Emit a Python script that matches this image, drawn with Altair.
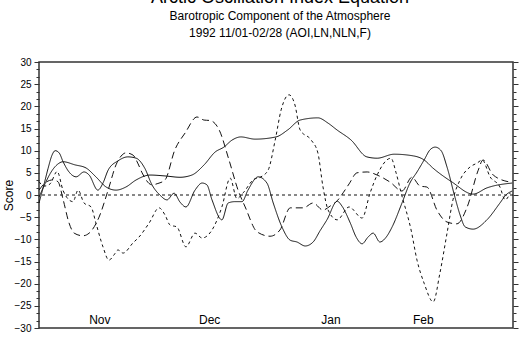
import altair as alt
import pandas as pd

# x = days since 1 Nov 1992 (0..120), y = score
aoi_day = [0.0, 1.5, 3.3, 4.8, 6.1, 9.1, 11.9, 14.4, 17.0, 19.5, 22.0, 24.6, 28.1, 31.9, 35.7,
           38.7, 41.8, 44.6, 46.8, 48.9, 51.1, 54.7, 60.0, 63.0, 66.1, 70.6, 73.2, 75.4, 79.0,
           83.0, 85.6, 89.9, 94.9, 97.5, 99.7, 104.6, 109.9, 113.4, 119.8]
aoi_val = [-0.5, 2.5, 5.5, 7.0, 7.5, 6.8, 6.1, 4.1, 1.8, 1.1, 1.8, 3.4, 4.5, 4.3, 4.0,
           4.5, 6.8, 9.7, 10.8, 12.4, 13.1, 12.6, 13.1, 14.7, 16.9, 17.4, 16.2, 14.7, 12.4,
           8.6, 8.3, 9.2, 8.8, 7.9, 6.1, 2.9, 0.2, 1.6, 2.7]

ln_day = [0.0, 1.8, 3.5, 4.8, 6.1, 7.6, 8.9, 11.1, 12.7, 15.2, 17.5, 19.5, 20.8, 22.0, 23.8,
          25.1, 26.1, 28.6, 30.1, 31.9, 34.4, 37.0, 40.0, 41.8, 43.3, 45.6, 48.1, 50.4, 52.2,
          55.2, 58.5, 61.0, 63.6, 66.9, 69.4, 71.9, 73.7, 75.5, 77.0, 78.5, 80.5, 83.1, 85.6,
          88.9, 91.9, 94.4, 96.5, 98.2, 100.8, 103.3, 105.8, 108.4, 111.2, 112.4, 115.0, 119.3]
ln_val = [1.1, 2.9, 3.4, 3.0, -1.0, -6.3, -8.6, -9.2, -8.6, -5.0, 1.1, 6.8, 8.8, 9.5, 9.0,
          7.0, 5.0, 2.3, 2.6, 3.4, 10.2, 14.0, 17.6, 16.9, 16.8, 14.7, 7.9, 1.1, -2.7,
          -8.3, -9.3, -7.9, -2.9, -2.9, -1.8, -3.4, -2.5, -1.3, 0.5, 2.5, 5.0, 5.2, 4.5,
          2.9, 0.9, 4.0, 2.0, 1.8, -3.5, -6.1, -6.5, -2.7, 5.6, 7.9, 4.5, 2.9]

nln_day = [0.0, 1.3, 2.8, 4.6, 6.1, 7.6, 8.6, 9.9, 11.4, 13.2, 14.4, 16.2, 17.7, 19.0, 20.0,
           21.3, 23.8, 25.3, 27.9, 30.4, 31.9, 33.2, 34.9, 37.2, 39.5, 41.3, 43.8, 46.3, 48.4,
           50.1, 51.7, 54.2, 56.2, 58.0, 59.8, 61.3, 63.3, 64.8, 66.1, 68.9, 70.6, 71.9, 73.2,
           75.5, 78.5, 81.8, 83.8, 85.6, 89.1, 90.4, 91.7, 94.2, 95.7, 97.5, 99.8, 101.5,
           103.3, 104.8, 106.6, 109.1, 110.9, 112.2, 114.2, 116.7, 118.0, 119.3]
nln_val = [3.0, 2.0, 2.5, 5.3, 1.0, -1.1, -1.5, 1.1, -1.8, -2.7, -6.3, -11.7, -14.7, -13.5, -12.4,
           -13.1, -10.8, -9.5, -6.3, -2.9, -4.5, -6.8, -7.2, -11.7, -8.6, -9.7, -7.9, -2.7, 3.8,
           -0.8, 0.5, 3.4, 4.1, 5.6, 12.4, 19.2, 22.6, 20.3, 14.7, 12.4, 9.5, 1.8, -3.4,
           -5.6, -2.7, -5.2, 0.4, 4.5, 8.3, 5.0, 0.4, -7.9, -14.7, -19.9, -24.1, -17.6,
           -8.6, -1.1, 3.4, 6.3, 7.2, 7.9, 4.1, 1.8, -1.1, 0.5]

f_day = [0.0, 1.3, 2.3, 3.3, 4.1, 5.1, 6.1, 7.6, 9.4, 11.4, 12.7, 14.9, 16.2, 17.5, 20.0,
         22.5, 24.6, 26.8, 28.6, 30.6, 32.4, 34.2, 35.7, 37.2, 39.5, 41.3, 42.5, 43.8, 46.3,
         47.9, 49.6, 51.4, 52.9, 55.5, 57.7, 59.3, 61.5, 63.6, 65.3, 67.4, 69.4, 71.2, 72.9,
         75.5, 76.7, 78.8, 80.3, 81.8, 83.3, 84.6, 86.3, 87.9, 89.4, 91.9, 93.9, 95.7, 97.5,
         99.0, 100.3, 101.8, 103.3, 105.3, 106.6, 107.9, 109.9, 113.4, 116.7, 118.2, 119.8]
f_val = [-1.8, 2.5, 6.0, 9.0, 10.0, 9.5, 7.5, 5.2, 4.1, 5.2, 4.5, 1.1, 2.7, 5.6, 7.7,
         8.6, 8.3, 6.0, 2.3, 0.0, -1.1, 0.4, -1.6, -2.7, 1.1, 2.7, 2.3, -1.1, -5.6,
         -1.8, -1.5, -1.5, 1.1, 4.1, 2.7, -1.8, -7.2, -10.2, -10.6, -11.5, -10.6, -8.0, -5.6,
         -1.4, -2.5, -6.3, -9.5, -11.0, -9.5, -8.6, -10.6, -9.5, -7.2, -1.8, 2.7, 5.2, 7.9,
         10.2, 10.8, 10.0, 6.3, -0.5, -4.5, -7.2, -7.7, -5.6, -1.8, 0.0, 0.9]

series_names = ["AOI", "LN", "NLN", "F"]
series_dash = [[1, 0], [7, 4], [3, 3], [1, 0]]

month_names = ["Nov", "Dec", "Jan", "Feb"]
month_day = [15.4, 43.2, 73.9, 97.3]
month_y = [-28.2, -28.2, -28.2, -28.2]

zero_line = [0]

rows = []
for name, days, vals in [("AOI", aoi_day, aoi_val), ("LN", ln_day, ln_val),
                         ("NLN", nln_day, nln_val), ("F", f_day, f_val)]:
    for d, v in zip(days, vals):
        rows.append({"series": name, "day": d, "value": v})
df = pd.DataFrame(rows)

FONT = "Liberation Sans"
x_scale = alt.Scale(domain=[0, 120], nice=False, zero=False)
y_scale = alt.Scale(domain=[-30, 30], nice=False, zero=False)
tick_vals = [round(-30 + i * 5 / 3, 4) for i in range(37)]
major_test = "abs(datum.value/5 - round(datum.value/5)) < 0.01"

left_axis = alt.Axis(
    orient="left", values=tick_vals,
    labelExpr=f"{major_test} ? format(round(datum.value), 'd') : ''",
    tickSize={"condition": {"test": major_test, "value": 5}, "value": 3},
    tickColor="#333", tickWidth=1, domain=False, grid=False,
    labelFont=FONT, labelFontSize=10, labelColor="black", labelPadding=3,
    labelOverlap=False, labelFlush=False,
    title="Score", titleFont=FONT, titleFontSize=12, titleFontWeight="normal",
    titleColor="black", titleAngle=270, titleX=-31, titleY=133,
    titleAlign="center", titleBaseline="middle",
)
right_axis = alt.Axis(
    orient="right", values=tick_vals, labels=False,
    tickSize={"condition": {"test": major_test, "value": 5}, "value": 3},
    tickColor="#333", tickWidth=1, domain=False, grid=False, title=None,
)

lines = alt.Chart(df).mark_line(strokeWidth=1, color="#111", interpolate="monotone").encode(
    x=alt.X("day:Q", scale=x_scale, axis=None),
    y=alt.Y("value:Q", scale=y_scale, axis=left_axis),
    strokeDash=alt.StrokeDash("series:N", scale=alt.Scale(domain=series_names, range=series_dash),
                              legend=None),
    detail="series:N",
)

zero = alt.Chart(pd.DataFrame({"y": zero_line})).mark_rule(
    strokeWidth=1, color="#111", strokeDash=[3, 3]
).encode(y=alt.Y("y:Q", scale=y_scale, axis=right_axis))

months = alt.Chart(pd.DataFrame({"m": month_names, "d": month_day, "y": month_y})).mark_text(
    font=FONT, fontSize=12, color="black", baseline="middle", align="center"
).encode(
    x=alt.X("d:Q", scale=x_scale, axis=None),
    y=alt.Y("y:Q", scale=y_scale, axis=None),
    text="m:N",
)

chart = alt.layer(lines, zero, months).resolve_axis(y="independent").properties(
    width=474, height=266,
    autosize=alt.AutoSizeParams(type="none"),
    padding={"left": 39, "top": 62, "right": 10, "bottom": 11},
    title=alt.TitleParams(
        text="Arctic Oscillation Index Equation",
        subtitle=["Barotropic Component of the Atmosphere", "1992 11/01-02/28 (AOI,LN,NLN,F)"],
        font=FONT, fontSize=18, fontWeight="normal", color="black",
        subtitleFont=FONT, subtitleFontSize=12, subtitleColor="black",
        subtitleLineHeight=17, subtitlePadding=4, offset=18, anchor="middle", dx=4,
    ),
).configure_view(stroke="#333", strokeWidth=1.5)

chart.save("out.html", embed_options={"renderer": "svg", "actions": False})
